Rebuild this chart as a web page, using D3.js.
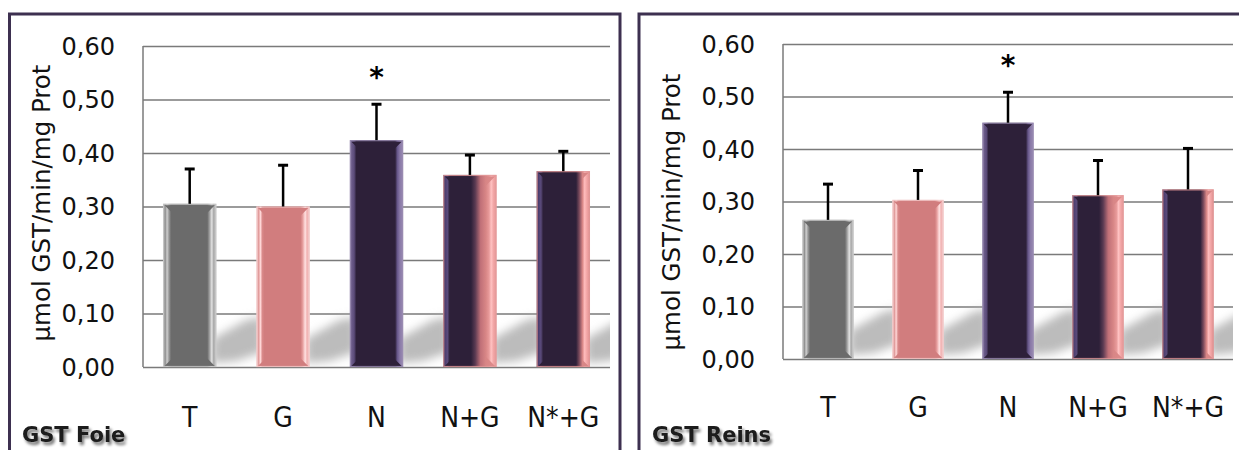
<!DOCTYPE html>
<html>
<head>
<meta charset="utf-8">
<script src="https://cdn.jsdelivr.net/npm/d3@7/dist/d3.min.js"></script>
<style>
  html, body { margin: 0; padding: 0; background: #ffffff; }
  svg { display: block; }
</style>
</head>
<body>
<svg id="chart" width="1239" height="450"></svg>
<script>
// Groups and measured GST activity (µmol GST/min/mg Prot), mean and upper SD
const categories = ["T", "G", "N", "N+G", "N*+G"];
const foieMeans  = [0.305, 0.300, 0.424, 0.359, 0.366];
const foieErrors = [0.067, 0.079, 0.069, 0.039, 0.039];
const reinsMeans  = [0.265, 0.303, 0.450, 0.312, 0.323];
const reinsErrors = [0.070, 0.058, 0.060, 0.068, 0.080];
const significant = [false, false, true, false, false];
const yTicks = [0, 0.1, 0.2, 0.3, 0.4, 0.5, 0.6];
const yTitle = "µmol GST/min/mg Prot";
const panelTitles = ["GST Foie", "GST Reins"];

const svg = d3.select("#chart");
const defs = svg.append("defs");
const fmt = v => d3.format(".2f")(v).replace(".", ",");

// Bevel colour ramps per group: "full" includes the glossy side strips,
// "core" is the plain body colour used for the top and bottom bevel caps.
const barStyles = [
  { full: [[0,"#bdbdbd"],[0.04,"#8e8e8e"],[0.075,"#cfcfcf"],[0.11,"#9a9a9a"],[0.15,"#6b6b6b"],[0.83,"#6b6b6b"],[0.87,"#9c9c9c"],[0.915,"#e2e2e2"],[0.95,"#a8a8a8"],[1,"#cfcfcf"]],
    core: [[0,"#6b6b6b"],[1,"#6b6b6b"]], edge: "#c8c8c8" },
  { full: [[0,"#f4cccc"],[0.04,"#e09a9a"],[0.075,"#ffd8d8"],[0.11,"#d98a8a"],[0.15,"#d17d7e"],[0.83,"#d17d7e"],[0.87,"#e8a0a0"],[0.915,"#ffe2e2"],[0.95,"#f0b0b0"],[1,"#f6d4d4"]],
    core: [[0,"#d17d7e"],[1,"#d17d7e"]], edge: "#f3c9c9" },
  { full: [[0,"#8e80a6"],[0.04,"#6a5a88"],[0.08,"#5c4c7a"],[0.12,"#2d2039"],[0.85,"#2d2039"],[0.89,"#66568a"],[0.94,"#8a7aa8"],[1,"#9a8cb2"]],
    core: [[0,"#2d2039"],[1,"#2d2039"]], edge: "#9a8cb2" },
  { full: [[0,"#3a2d52"],[0.04,"#4f4072"],[0.08,"#5a4a7a"],[0.12,"#2d2039"],[0.52,"#2d2039"],[0.6,"#5a3a52"],[0.7,"#c07078"],[0.8,"#d88686"],[0.86,"#e89a9a"],[0.9,"#ffc2c2"],[0.95,"#f0a2a2"],[1,"#e49a9a"]],
    core: [[0,"#2d2039"],[0.52,"#2d2039"],[0.6,"#5a3a52"],[0.7,"#c07078"],[0.8,"#d88686"],[1,"#e08c8c"]], edge: "#e49a9a" },
  { full: [[0,"#3a2d52"],[0.04,"#4f4072"],[0.08,"#5a4a7a"],[0.12,"#2d2039"],[0.74,"#2d2039"],[0.8,"#7a4a5c"],[0.86,"#d88686"],[0.9,"#ffbcbc"],[0.95,"#f0a2a2"],[1,"#e09494"]],
    core: [[0,"#2d2039"],[0.74,"#2d2039"],[0.8,"#7a4a5c"],[0.86,"#d88686"],[1,"#d88686"]], edge: "#e09494" }
];

// Soft shadow blur and label drop shadow
const blur = defs.append("filter").attr("id", "shadowBlur")
  .attr("x", "-30%").attr("y", "-60%").attr("width", "160%").attr("height", "220%");
blur.append("feGaussianBlur").attr("stdDeviation", 5);

const textShadow = defs.append("filter").attr("id", "textShadow")
  .attr("x", "-10%").attr("y", "-30%").attr("width", "130%").attr("height", "170%");
textShadow.append("feGaussianBlur").attr("in", "SourceAlpha").attr("stdDeviation", 1.6).attr("result", "b");
textShadow.append("feOffset").attr("in", "b").attr("dx", 2).attr("dy", 2.5).attr("result", "o");
textShadow.append("feComponentTransfer").attr("in", "o").attr("result", "s")
  .append("feFuncA").attr("type", "linear").attr("slope", 0.55);
const tsMerge = textShadow.append("feMerge");
tsMerge.append("feMergeNode").attr("in", "s");
tsMerge.append("feMergeNode").attr("in", "SourceGraphic");

function addGradient(id, stops, xa, xb) {
  const g = defs.append("linearGradient").attr("id", id)
    .attr("gradientUnits", "userSpaceOnUse")
    .attr("x1", xa).attr("x2", xb).attr("y1", 0).attr("y2", 0);
  stops.forEach(([o, c]) => g.append("stop").attr("offset", o).attr("stop-color", c));
}

const panels = [
  { id: "foie", frame: [9.5, 14, 620, 470], plot: { x0: 143, x1: 610, y0: 46, y1: 367 },
    means: foieMeans, errors: foieErrors, title: panelTitles[0],
    titleX: 50, titleY: 203, labelY: 427, nameX: 22, nameY: 442 },
  { id: "reins", frame: [639, 14, 1242, 470], plot: { x0: 783, x1: 1233, y0: 44, y1: 359 },
    means: reinsMeans, errors: reinsErrors, title: panelTitles[1],
    titleX: 680, titleY: 212, labelY: 417, nameX: 652, nameY: 442 }
];

panels.forEach(p => {
  const g = svg.append("g");
  const { x0, x1, y0, y1 } = p.plot;

  const x = d3.scaleBand().domain(categories).range([x0, x1])
    .paddingInner(0.43).paddingOuter(0.215);
  const y = d3.scaleLinear().domain([0, 0.6]).range([y1, y0]);

  // Panel frame
  g.append("path")
    .attr("d", `M${p.frame[0]},${p.frame[3]} V${p.frame[1]} H${p.frame[2]} V${p.frame[3]}`)
    .attr("fill", "none").attr("stroke", "#3d3050").attr("stroke-width", 3);

  // Horizontal gridlines via the y axis
  const grid = g.append("g").attr("transform", `translate(${x0},0)`)
    .call(d3.axisLeft(y).tickValues(yTicks).tickSize(-(x1 - x0)).tickFormat(""));
  grid.select(".domain").remove();
  grid.selectAll(".tick line").attr("stroke", "#7a7a7a").attr("stroke-width", 1.5);

  // Left axis line
  g.append("line").attr("x1", x0).attr("x2", x0).attr("y1", y(0.6)).attr("y2", y(0))
    .attr("stroke", "#7a7a7a").attr("stroke-width", 1.5);

  // Tick labels
  g.selectAll(".ytl").data(yTicks).join("text").attr("class", "ytl")
    .attr("x", x0 - 28).attr("y", d => y(d) + 8.5)
    .attr("text-anchor", "end")
    .attr("font-family", "DejaVu Sans, sans-serif").attr("font-size", 24)
    .attr("fill", "#111").text(fmt);

  // Axis title
  g.append("text")
    .attr("transform", `translate(${p.titleX},${p.titleY}) rotate(-90)`)
    .attr("text-anchor", "middle")
    .attr("font-family", "DejaVu Sans, sans-serif").attr("font-size", 24.5)
    .attr("fill", "#111").text(yTitle);

  // Diagonal cast shadows behind bars, kept inside the plot area
  const clipId = "clip-" + p.id;
  defs.append("clipPath").attr("id", clipId).append("rect")
    .attr("x", x0 + 1).attr("y", y0).attr("width", x1 - x0 - 1).attr("height", y1 - y0 - 1);
  const gap = x.step() - x.bandwidth();
  g.append("g").attr("clip-path", `url(#${clipId})`)
    .selectAll("polygon").data(categories).join("polygon")
    .attr("points", c => {
      const r = x(c) + x.bandwidth();
      const b = y(0);
      return [[r - 4, b - 4], [r - 4, b - 28], [r + 30, b - 47], [r + gap + 6, b - 50], [r + gap + 6, b - 15], [r + 20, b - 6]]
        .map(pt => pt.join(",")).join(" ");
    })
    .attr("fill", "#bcbcbc").attr("filter", "url(#shadowBlur)");

  // Bars
  const bars = g.append("g");
  categories.forEach((c, i) => {
    const bx = x(c), bw = x.bandwidth();
    const top = y(p.means[i]), base = y(0);
    const st = barStyles[i];
    addGradient(`full-${p.id}-${i}`, st.full, bx, bx + bw);
    addGradient(`core-${p.id}-${i}`, st.core, bx, bx + bw);
    const bar = bars.append("g");
    bar.append("rect").attr("x", bx).attr("y", top).attr("width", bw).attr("height", base - top)
      .attr("fill", `url(#full-${p.id}-${i})`);
    const bev = 9;
    // top bevel cap
    bar.append("polygon")
      .attr("points", [[bx + 1.5, top + 1.5], [bx + bw - 1.5, top + 1.5], [bx + bw - 1.5 - bev, top + 1.5 + bev], [bx + 1.5 + bev, top + 1.5 + bev]]
        .map(pt => pt.join(",")).join(" "))
      .attr("fill", `url(#core-${p.id}-${i})`);
    // bottom bevel cap
    bar.append("polygon")
      .attr("points", [[bx + 1.5, base - 1], [bx + bw - 1.5, base - 1], [bx + bw - 1.5 - bev, base - 1 - bev], [bx + 1.5 + bev, base - 1 - bev]]
        .map(pt => pt.join(",")).join(" "))
      .attr("fill", `url(#core-${p.id}-${i})`);
    // outer edge
    bar.append("rect").attr("x", bx + 0.5).attr("y", top + 0.5).attr("width", bw - 1).attr("height", base - top - 1)
      .attr("fill", "none").attr("stroke", st.edge).attr("stroke-width", 1.2).attr("stroke-opacity", 0.8);
  });

  // Error bars (upper only)
  const eb = g.append("g");
  categories.forEach((c, i) => {
    const cx = x(c) + x.bandwidth() / 2;
    const yt = y(p.means[i] + p.errors[i]);
    eb.append("line").attr("x1", cx).attr("x2", cx).attr("y1", y(p.means[i])).attr("y2", yt)
      .attr("stroke", "#000").attr("stroke-width", 2.5);
    eb.append("line").attr("x1", cx - 5).attr("x2", cx + 5).attr("y1", yt + 1).attr("y2", yt + 1)
      .attr("stroke", "#000").attr("stroke-width", 3);
    if (significant[i]) {
      eb.append("text").attr("x", cx).attr("y", yt - 33 + 17)
        .attr("text-anchor", "middle")
        .attr("font-family", "DejaVu Sans, sans-serif").attr("font-weight", "bold").attr("font-size", 28)
        .attr("fill", "#000").text("*");
    }
  });

  // Category labels
  g.selectAll(".xl").data(categories).join("text").attr("class", "xl")
    .attr("x", c => x(c) + x.bandwidth() / 2).attr("y", p.labelY)
    .attr("text-anchor", "middle")
    .attr("font-family", "'Liberation Sans Narrow', 'DejaVu Sans Condensed', sans-serif")
    .attr("font-size", 28).attr("fill", "#111").text(d => d);

  // Panel name
  g.append("text").attr("x", p.nameX).attr("y", p.nameY)
    .attr("font-family", "DejaVu Sans, sans-serif").attr("font-weight", "bold").attr("font-size", 21)
    .attr("fill", "#1a1a1a").attr("filter", "url(#textShadow)").text(p.title);
});
</script>
</body>
</html>
